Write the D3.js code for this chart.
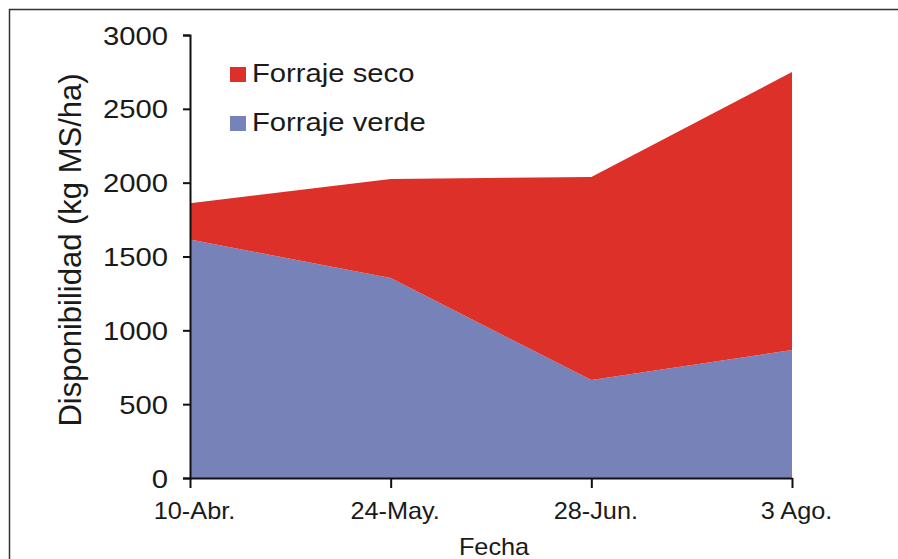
<!DOCTYPE html>
<html>
<head>
<meta charset="utf-8">
<script src="https://cdn.jsdelivr.net/npm/d3@7"></script>
<style>
  body { margin: 0; background: #fff; }
  svg { display: block; font-family: "Liberation Sans", Arial, sans-serif; }
</style>
</head>
<body>
<div id="chart"></div>
<script>
// data
const categories = ["10-Abr.", "24-May.", "28-Jun.", "3 Ago."];
const forrajeVerde = [1615, 1354, 664, 867];
const forrajeSeco = [245, 671, 1374, 1882];
const yTicks = [0, 500, 1000, 1500, 2000, 2500, 3000];

const width = 898;
const height = 559;

const svg = d3
  .select("#chart")
  .append("svg")
  .attr("width", width)
  .attr("height", height);

// frame (top + left edges)
svg.append("path")
  .attr("d", `M9.5,${height} V9.5 H${width}`)
  .attr("fill", "none")
  .attr("stroke", "#333")
  .attr("stroke-width", 1.5);

const xScale = d3.scalePoint().domain(categories).range([190, 792]);
const yScale = d3.scaleLinear().domain([0, 3000]).range([478, 35]);

const rows = categories.map((c, i) => ({ cat: c, verde: forrajeVerde[i], seco: forrajeSeco[i] }));
const series = d3.stack().keys(["verde", "seco"])(rows);
const colors = { verde: "#7682b8", seco: "#dc3029" };

const area = d3.area()
  .x((d) => xScale(d.data.cat))
  .y0((d) => yScale(d[0]))
  .y1((d) => yScale(d[1]));

svg.append("g")
  .selectAll("path")
  .data(series)
  .join("path")
  .attr("d", area)
  .attr("fill", (d) => colors[d.key]);

// Y axis
const yAxis = svg.append("g")
  .attr("transform", "translate(190,0)")
  .call(d3.axisLeft(yScale).tickValues(yTicks).tickSize(7).tickPadding(0).tickFormat(d3.format("d")));
yAxis.select(".domain").attr("stroke", "#111").attr("stroke-width", 2);
yAxis.selectAll(".tick line").attr("stroke", "#111").attr("stroke-width", 2);
yAxis.selectAll(".tick text")
  .attr("x", 0)
  .attr("dy", "0.36em")
  .attr("fill", "#1a1a1a")
  .style("font-size", "25px")
  .attr("transform", "translate(-22,0) scale(1.17,1)");

// X axis
const xAxis = svg.append("g")
  .attr("transform", "translate(0,478)")
  .call(d3.axisBottom(xScale).tickSize(10).tickSizeOuter(0));
xAxis.select(".domain").attr("stroke", "#111").attr("stroke-width", 2);
xAxis.selectAll(".tick line").attr("stroke", "#111").attr("stroke-width", 2);
xAxis.selectAll(".tick text")
  .attr("y", 0)
  .attr("dy", 0)
  .attr("fill", "#1a1a1a")
  .style("font-size", "23px")
  .attr("transform", "translate(4,41) scale(1.1,1)");

// axis titles
svg.append("text")
  .attr("transform", "translate(494,555) scale(1.1,1)")
  .attr("text-anchor", "middle")
  .attr("fill", "#1a1a1a")
  .style("font-size", "23px")
  .text("Fecha");

svg.append("text")
  .attr("transform", "translate(81,250) rotate(-90)")
  .attr("text-anchor", "middle")
  .attr("fill", "#1a1a1a")
  .style("font-size", "31px")
  .text("Disponibilidad (kg MS/ha)");

// legend
const legendItems = [
  { label: "Forraje seco", key: "seco", y: 82 },
  { label: "Forraje verde", key: "verde", y: 131 },
];
const legend = svg.append("g");
legend.selectAll("rect")
  .data(legendItems)
  .join("rect")
  .attr("x", 230)
  .attr("y", (d) => d.y - 15)
  .attr("width", 16)
  .attr("height", 15)
  .attr("fill", (d) => colors[d.key]);
legend.selectAll("text")
  .data(legendItems)
  .join("text")
  .attr("transform", (d) => `translate(252,${d.y}) scale(1.17,1)`)
  .attr("fill", "#1a1a1a")
  .style("font-size", "25px")
  .text((d) => d.label);
</script>
</body>
</html>
